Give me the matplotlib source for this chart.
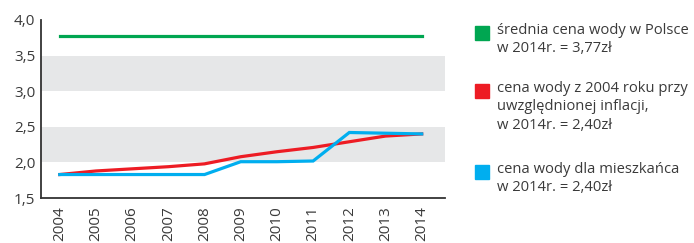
import matplotlib.pyplot as plt
from matplotlib.patches import Rectangle

plt.rcParams['font.family'] = ['Open Sans', 'DejaVu Sans']

years = [2004, 2005, 2006, 2007, 2008, 2009, 2010, 2011, 2012, 2013, 2014]
avg_poland = [3.77] * len(years)
inflation = [1.83, 1.88, 1.91, 1.94, 1.98, 2.08, 2.15, 2.21, 2.29, 2.37, 2.40]
resident = [1.83, 1.83, 1.83, 1.83, 1.83, 2.01, 2.01, 2.02, 2.42, 2.41, 2.40]
yticks = [1.5, 2.0, 2.5, 3.0, 3.5, 4.0]
ytick_labels = ["1,5", "2,0", "2,5", "3,0", "3,5", "4,0"]
legend_labels = [
    "średnia cena wody w Polsce\nw 2014r. = 3,77zł",
    "cena wody z 2004 roku przy\nuwzględnionej inflacji,\nw 2014r. = 2,40zł",
    "cena wody dla mieszkańca\nw 2014r. = 2,40zł",
]
colors = ["#00a651", "#ed1c24", "#00aeef"]
txt = "#3a3a3a"

fig = plt.figure(figsize=(6.94, 2.43), dpi=100)
ax = fig.add_axes([0.059, 0.185, 0.582, 0.733])

for lo, hi in [(2.0, 2.5), (3.0, 3.5)]:
    ax.axhspan(lo, hi, color="#e6e7e8", lw=0, zorder=0)

for series, c in zip([avg_poland, inflation, resident], colors):
    ax.plot(years, series, color=c, lw=2.3, solid_joinstyle="miter", zorder=3)

ax.set_xlim(2003.48, 2014.64)
ax.set_ylim(1.5, 4.0)
ax.set_yticks(yticks)
ax.set_yticklabels(ytick_labels)
ax.set_xticks(years)
ax.set_xticklabels([str(y) for y in years], rotation=90)
ax.tick_params(length=0, labelsize=11, colors=txt, pad=4)
ax.tick_params(axis="x", pad=6)
for s in ["top", "right"]:
    ax.spines[s].set_visible(False)
for s in ["left", "bottom"]:
    ax.spines[s].set_color("#333333")
    ax.spines[s].set_linewidth(1.3)

# legend drawn by hand
sq_w, sq_h = 14 / 694, 14 / 243
for label, c, ytop in zip(legend_labels, colors, [33, 91, 172]):
    yc = 1 - ytop / 243
    fig.patches.append(Rectangle((475 / 694, yc - sq_h / 2), sq_w, sq_h,
                                 transform=fig.transFigure, color=c))
    fig.text(497 / 694, yc + 10 / 243, label, ha="left", va="top",
             fontsize=10.6, color=txt, linespacing=1.3)

fig.savefig("out.png", dpi=100)
